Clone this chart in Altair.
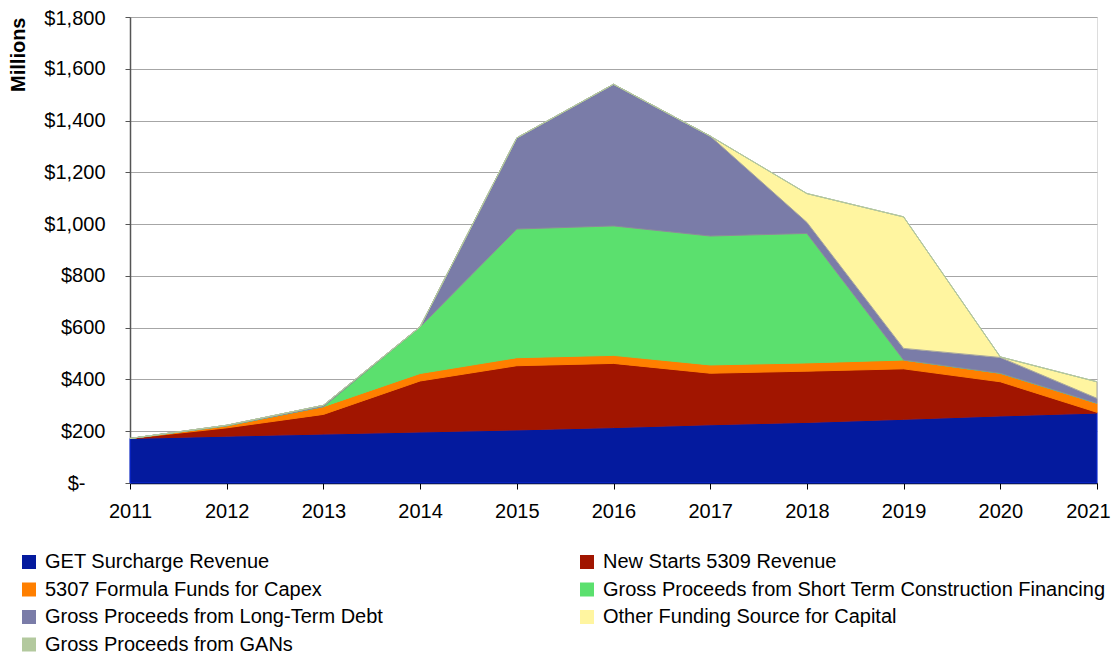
import altair as alt
import pandas as pd

years = [2011, 2012, 2013, 2014, 2015, 2016, 2017, 2018, 2019, 2020, 2021]

series_names = [
    "GET Surcharge Revenue",
    "New Starts 5309 Revenue",
    "5307 Formula Funds for Capex",
    "Gross Proceeds from Short Term Construction Financing",
    "Gross Proceeds from Long-Term Debt",
    "Other Funding Source for Capital",
    "Gross Proceeds from GANs",
]

get_surcharge = [172, 181, 189, 197, 205, 214, 225, 234, 246, 259, 270]
new_starts = [0, 32, 76, 197, 248, 248, 199, 198, 195, 132, 3]
formula_5307 = [0, 8, 30, 29, 31, 31, 32, 32, 34, 33, 35]
short_term = [0, 0, 0, 180, 497, 500, 498, 500, 0, 0, 0]
long_term = [0, 2, 5, 0, 352, 547, 386, 43, 45, 61, 19]
other_funding = [0, 0, 0, 0, 0, 0, 0, 111, 508, 2, 64]
gans = [0, 0, 0, 0, 0, 0, 0, 0, 0, 0, 0]

y_ticks = [0, 200, 400, 600, 800, 1000, 1200, 1400, 1600, 1800]

fill_colors = ["#041A9E", "#A11500", "#FF7F00", "#5BE06E", "#7A7CA8", "#FFF5A0", "#B3C99E"]
stroke_colors = ["#0B2BE0", "#A11500", "#FF7F00", "#5BE06E", "#8C8A9A", "#A8A8A0", "#B3C99E"]

all_series = [get_surcharge, new_starts, formula_5307, short_term, long_term, other_funding, gans]

rows = []
for i, (name, vals) in enumerate(zip(series_names, all_series)):
    for y, v in zip(years, vals):
        rows.append({"year": y, "series": name, "value": v, "idx": i})
df = pd.DataFrame(rows)

font = "Liberation Sans"
fs = 20

y_label_expr = "datum.value == 0 ? '$-' : '$' + format(datum.value, ',')"

chart = (
    alt.Chart(df)
    .mark_area(interpolate="linear", strokeWidth=1)
    .encode(
        x=alt.X(
            "year:Q",
            scale=alt.Scale(domain=[2011, 2021], nice=False, zero=False),
            axis=alt.Axis(
                values=years,
                format="d",
                title=None,
                grid=False,
                labelFontSize=fs,
                labelFont=font,
                labelColor="#000000",
                labelPadding=12,
                labelOffset={"condition": {"test": "datum.value === 2021", "value": -9}, "value": 0},
                tickSize=6,
                tickColor="#000000",
                domainColor="#000000",
                domainWidth=1.5,
                labelFlush=False,
                labelOverlap=False,
            ),
        ),
        y=alt.Y(
            "value:Q",
            stack="zero",
            scale=alt.Scale(domain=[0, 1800], nice=False),
            axis=alt.Axis(
                values=y_ticks,
                labelExpr=y_label_expr,
                title="Millions",
                titleFont=font,
                titleFontSize=20,
                titleFontWeight="bold",
                titleColor="#000000",
                titleAnchor="end",
                titlePadding=15,
                labelFontSize=fs,
                labelFont=font,
                labelColor="#000000",
                labelPadding={"condition": {"test": "datum.value === 0", "value": 40}, "value": 20},
                labelOffset={"condition": {"test": "datum.value === 1800", "value": 1.5}, "value": 0},
                labelOverlap=False,
                tickSize=5,
                tickColor="#555555",
                domainColor="#555555",
                domainWidth=1.5,
                gridColor="#A6A6A6",
                gridWidth=1,
            ),
        ),
        fill=alt.Fill(
            "series:N",
            scale=alt.Scale(domain=series_names, range=fill_colors),
            legend=alt.Legend(
                title=None,
                orient="none",
                legendX=-111,
                legendY=535,
                columns=2,
                columnPadding=194,
                rowPadding=7.5,
                direction="horizontal",
                symbolType="square",
                symbolSize=196,
                symbolStrokeWidth=0,
                labelFont=font,
                labelFontSize=fs,
                labelColor="#000000",
                labelOffset=6,
                labelLimit=700,
            ),
        ),
        stroke=alt.Stroke(
            "series:N",
            scale=alt.Scale(domain=series_names, range=stroke_colors),
            legend=None,
        ),
        order=alt.Order("idx:Q", sort="ascending"),
    )
    .properties(
        width=967,
        height=466,
        autosize=alt.AutoSizeParams(type="none"),
        padding={"left": 122, "top": 9, "right": 14, "bottom": 171},
    )
    .configure_view(stroke="#A6A6A6", strokeWidth=1)
    .configure(background="#FFFFFF")
)

chart.save("out.html", embed_options={"renderer": "svg", "actions": False})
